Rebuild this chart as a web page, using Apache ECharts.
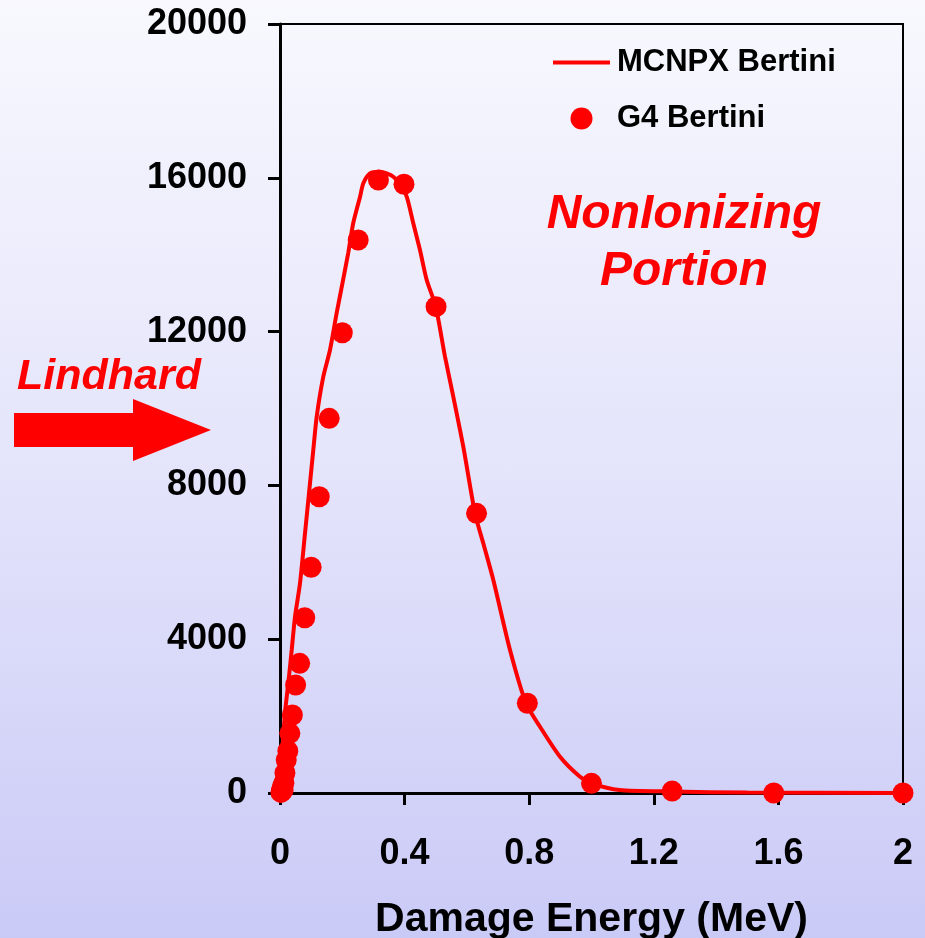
<!DOCTYPE html>
<html>
<head>
<meta charset="utf-8">
<script src="https://cdn.jsdelivr.net/npm/echarts@6/dist/echarts.min.js"></script>
<style>
  html, body { margin: 0; padding: 0; }
  #chart {
    width: 925px; height: 938px;
    background: linear-gradient(to bottom, #f8f8fe 0%, #e4e4fb 50%, #cacaf7 100%);
  }
</style>
</head>
<body>
<div id="chart"></div>
<script>
// MCNPX Bertini damage-energy spectrum (continuous curve)
const mcnpxEnergy = [0, 0.006, 0.016, 0.0266, 0.0376, 0.0482, 0.0642, 0.0803, 0.0963, 0.1069, 0.1178, 0.139, 0.1605, 0.182, 0.219, 0.235, 0.257, 0.2675, 0.289, 0.321, 0.3425, 0.3637, 0.3852, 0.4067, 0.4279, 0.4494, 0.471, 0.5, 0.5297, 0.5563, 0.5884, 0.626, 0.6526, 0.6848, 0.7384, 0.7897, 0.8347, 0.8989, 0.9631, 1.0, 1.09, 1.26, 1.5, 2.0];
const mcnpxCounts = [0, 900, 2080, 2853, 3719, 4585, 5454, 6754, 8055, 8921, 9787, 10827, 11521, 12484, 14044, 14817, 15508, 15857, 16117, 16159, 16117, 16029, 15839, 15508, 14817, 14122, 13342, 12648, 11347, 10307, 9006, 7274, 6494, 5540, 3719, 2333, 1724, 944, 424, 252, 78, 40, 10, 0];

// Geant4 Bertini damage-energy spectrum (binned points)
const g4Energy = [0.00316, 0.004, 0.005, 0.0063, 0.0079, 0.01, 0.0126, 0.0158, 0.02, 0.0251, 0.0316, 0.0398, 0.0501, 0.0631, 0.0794, 0.1, 0.126, 0.158, 0.2, 0.251, 0.316, 0.398, 0.501, 0.631, 0.794, 1.0, 1.259, 1.585, 2.0];
const g4Counts = [15, 30, 60, 100, 170, 78, 260, 520, 858, 1092, 1551, 2029, 2809, 3373, 4559, 5870, 7706, 9745, 11971, 14382, 15943, 15831, 12648, 7274, 2333, 252, 50, 0, 0];

const xTicks = { min: 0, max: 2, interval: 0.4 };
const yTicks = { min: 0, max: 20000, interval: 4000 };

const mcnpxData = mcnpxEnergy.map((e, i) => [e, mcnpxCounts[i]]);
const g4Data = g4Energy.map((e, i) => [e, g4Counts[i]]);

const FONT = '"Liberation Sans", Arial, sans-serif';
const RED = '#ff0000';

const chart = echarts.init(document.getElementById('chart'), null, { renderer: 'canvas' });

chart.setOption({
  backgroundColor: 'transparent',
  animation: false,
  grid: {
    left: 280, right: 22, top: 24, bottom: 145,
    outerBoundsMode: 'none',
    containLabel: false,
    show: true, borderColor: '#000', borderWidth: 2, backgroundColor: 'transparent'
  },
  legend: {
    orient: 'vertical',
    left: 553, top: 47,
    padding: 0,
    itemWidth: 57, itemHeight: 22, itemGap: 25,
    textStyle: { fontFamily: FONT, fontWeight: 'bold', fontSize: 31, color: '#000', padding: [0, 0, 0, 2] },
    data: [
      { name: 'MCNPX Bertini', icon: 'path://M0,0 L56,0 L56,4 L0,4 Z' },
      { name: 'G4 Bertini', icon: 'circle' }
    ]
  },
  xAxis: {
    type: 'value',
    min: xTicks.min, max: xTicks.max, interval: xTicks.interval,
    name: 'Damage Energy (MeV)',
    nameLocation: 'middle',
    nameGap: 106,
    nameTextStyle: { fontFamily: FONT, fontWeight: 'bold', fontSize: 41, color: '#000' },
    splitLine: { show: false },
    axisLine: { lineStyle: { color: '#000', width: 3 } },
    axisTick: { show: true, inside: false, length: 12, lineStyle: { color: '#000', width: 3 } },
    axisLabel: { margin: 43, fontFamily: FONT, fontWeight: 'bold', fontSize: 36, color: '#000',
      formatter: v => String(v) }
  },
  yAxis: {
    type: 'value',
    min: yTicks.min, max: yTicks.max, interval: yTicks.interval,
    splitLine: { show: false },
    axisLine: { show: true, lineStyle: { color: '#000', width: 3 } },
    axisTick: { show: true, inside: false, length: 12, lineStyle: { color: '#000', width: 3 } },
    axisLabel: { margin: 33, fontFamily: FONT, fontWeight: 'bold', fontSize: 36, color: '#000',
      formatter: v => String(v) }
  },
  series: [
    {
      name: 'MCNPX Bertini',
      type: 'line',
      data: mcnpxData,
      symbol: 'none',
      smooth: 0.25,
      clip: false,
      lineStyle: { color: RED, width: 4 },
      itemStyle: { color: RED },
      z: 3
    },
    {
      name: 'G4 Bertini',
      type: 'scatter',
      data: g4Data,
      symbol: 'circle',
      symbolSize: 21,
      clip: false,
      itemStyle: { color: RED, opacity: 1 },
      z: 4
    }
  ],
  graphic: [
    {
      type: 'text',
      x: 684, y: 186,
      style: {
        text: 'NonIonizing\nPortion',
        fill: RED,
        font: 'italic bold 48px "Liberation Sans", Arial, sans-serif',
        align: 'center',
        verticalAlign: 'top',
        lineHeight: 57
      }
    },
    {
      type: 'text',
      x: 17, y: 356,
      style: {
        text: 'Lindhard',
        fill: RED,
        font: 'italic bold 43px "Liberation Sans", Arial, sans-serif',
        verticalAlign: 'top'
      }
    },
    {
      type: 'polygon',
      shape: {
        points: [[14, 413], [133, 413], [133, 399], [211, 430], [133, 461], [133, 447], [14, 447]]
      },
      style: { fill: RED }
    }
  ]
});
</script>
</body>
</html>
